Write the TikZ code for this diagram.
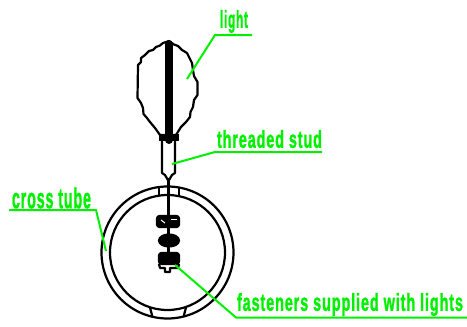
\documentclass[tikz,border=0pt]{standalone}
\usepackage{graphicx}
\usepackage{fontspec}
\setmainfont{Liberation Sans}
\definecolor{leadgreen}{RGB}{0,240,0}
\newcommand{\fitlabel}[3]{\resizebox*{#1pt}{#2pt}{\addfontfeatures{FakeBold=1.5,LetterSpace=6}\bfseries #3}}
\tikzset{
  part/.style={draw=black,line width=2.2pt,line join=round},
  solidpart/.style={part,fill=black},
  leader/.style={draw=leadgreen,line width=2pt,line join=miter},
  leadtext/.style={text=leadgreen,inner sep=0pt,anchor=center}
}
\begin{document}
\begin{tikzpicture}[x=1pt,y=-1pt]
\useasboundingbox (0,0) rectangle (467,327);
% lamp
\path[part] (169,41) -- (163,43) -- (160,45.5) -- (156,47) -- (153,50) -- (149,51) -- (145,55) -- (141,58) -- (141,62) -- (138,65) -- (137.5,98) -- (141,103) -- (143,108) -- (143.5,114) -- (147,118) -- (150,122) -- (155,128) -- (160,135) -- (176,135) -- (181,127) -- (186,122) -- (190,117) -- (190.5,112) -- (193,107) -- (194,100) -- (197.5,95) -- (197.5,82) -- (194,76) -- (193,70) -- (192,63) -- (189,57) -- (187,53) -- (182,50) -- (178,46) -- (174,44.5) -- cycle;
\node[solidpart,minimum width=19pt,minimum height=6pt,inner sep=0pt,line width=.5pt] (lampbase) at (169,137) {};
\draw[black,line width=8pt,line cap=round] (169,44) -- (169,140);
% stud
\draw[part] (162,141) -- (162,173) -- (165,175) -- (168.5,181) -- (172,175) -- (175,173) -- (175,141);
% tube
\node[part,circle,minimum size=132pt,inner sep=0pt] (outer) at (167.5,252.5) {};
\node[part,circle,minimum size=115pt,inner sep=0pt] (inner) at (167.5,252.5) {};
\draw[part] (159,186.5) -- (159,196);
\draw[part] (179,186.5) -- (179,196);
\draw[part] (150,307.5) -- (152.5,317);
\draw[part] (186,307.5) -- (183.5,317);
% rod and fasteners
\draw[part] (168.5,178) -- (168.5,217);
\draw[solidpart,rounded corners=2.5pt] (157,216) rectangle (179,227);
\draw[white,line width=1pt] (161,220) -- (165,223);
\draw[white,line width=1pt] (171,219.5) -- (177,219.5);
\draw[solidpart] (169,240.5) ellipse (10pt and 6pt);
\draw[part] (168.5,228) -- (168.5,252);
\draw[solidpart,rounded corners=2.5pt] (159,253) rectangle (179,264);
\draw[part] (159,264) -- (160,268) -- (165,268) -- (165,272) -- (170,272) -- (170,268) -- (178,268) -- (179,264);
% labels
\node[leadtext] (tlight) at (234,21.5) {\fitlabel{28}{23}{light}};
\node[leadtext] (tstud) at (269.5,139) {\fitlabel{105}{18}{threaded stud}};
\node[leadtext] (ttube) at (51.5,198) {\fitlabel{79}{21}{cross tube}};
\node[leadtext] (tfast) at (350,304.5) {\fitlabel{226}{23}{fasteners supplied with lights}};
% leaders
\coordinate (a1) at (187,79);
\coordinate (a2) at (215,35);
\coordinate (a3) at (252,35);
\coordinate (b1) at (172,164);
\coordinate (b2) at (215,152);
\coordinate (b3) at (322,152);
\coordinate (c1) at (9,210);
\coordinate (c2) at (96,210);
\coordinate (c3) at (106,251);
\coordinate (d1) at (175,265);
\coordinate (d2) at (236,317.5);
\coordinate (d3) at (467,317.5);
\draw[leader] (a1) -- (a2) -- (a3);
\draw[leader] (b1) -- (b2) -- (b3);
\draw[leader] (c1) -- (c2) -- (c3);
\draw[leader] (d1) -- (d2) -- (d3);
\end{tikzpicture}
\end{document}
